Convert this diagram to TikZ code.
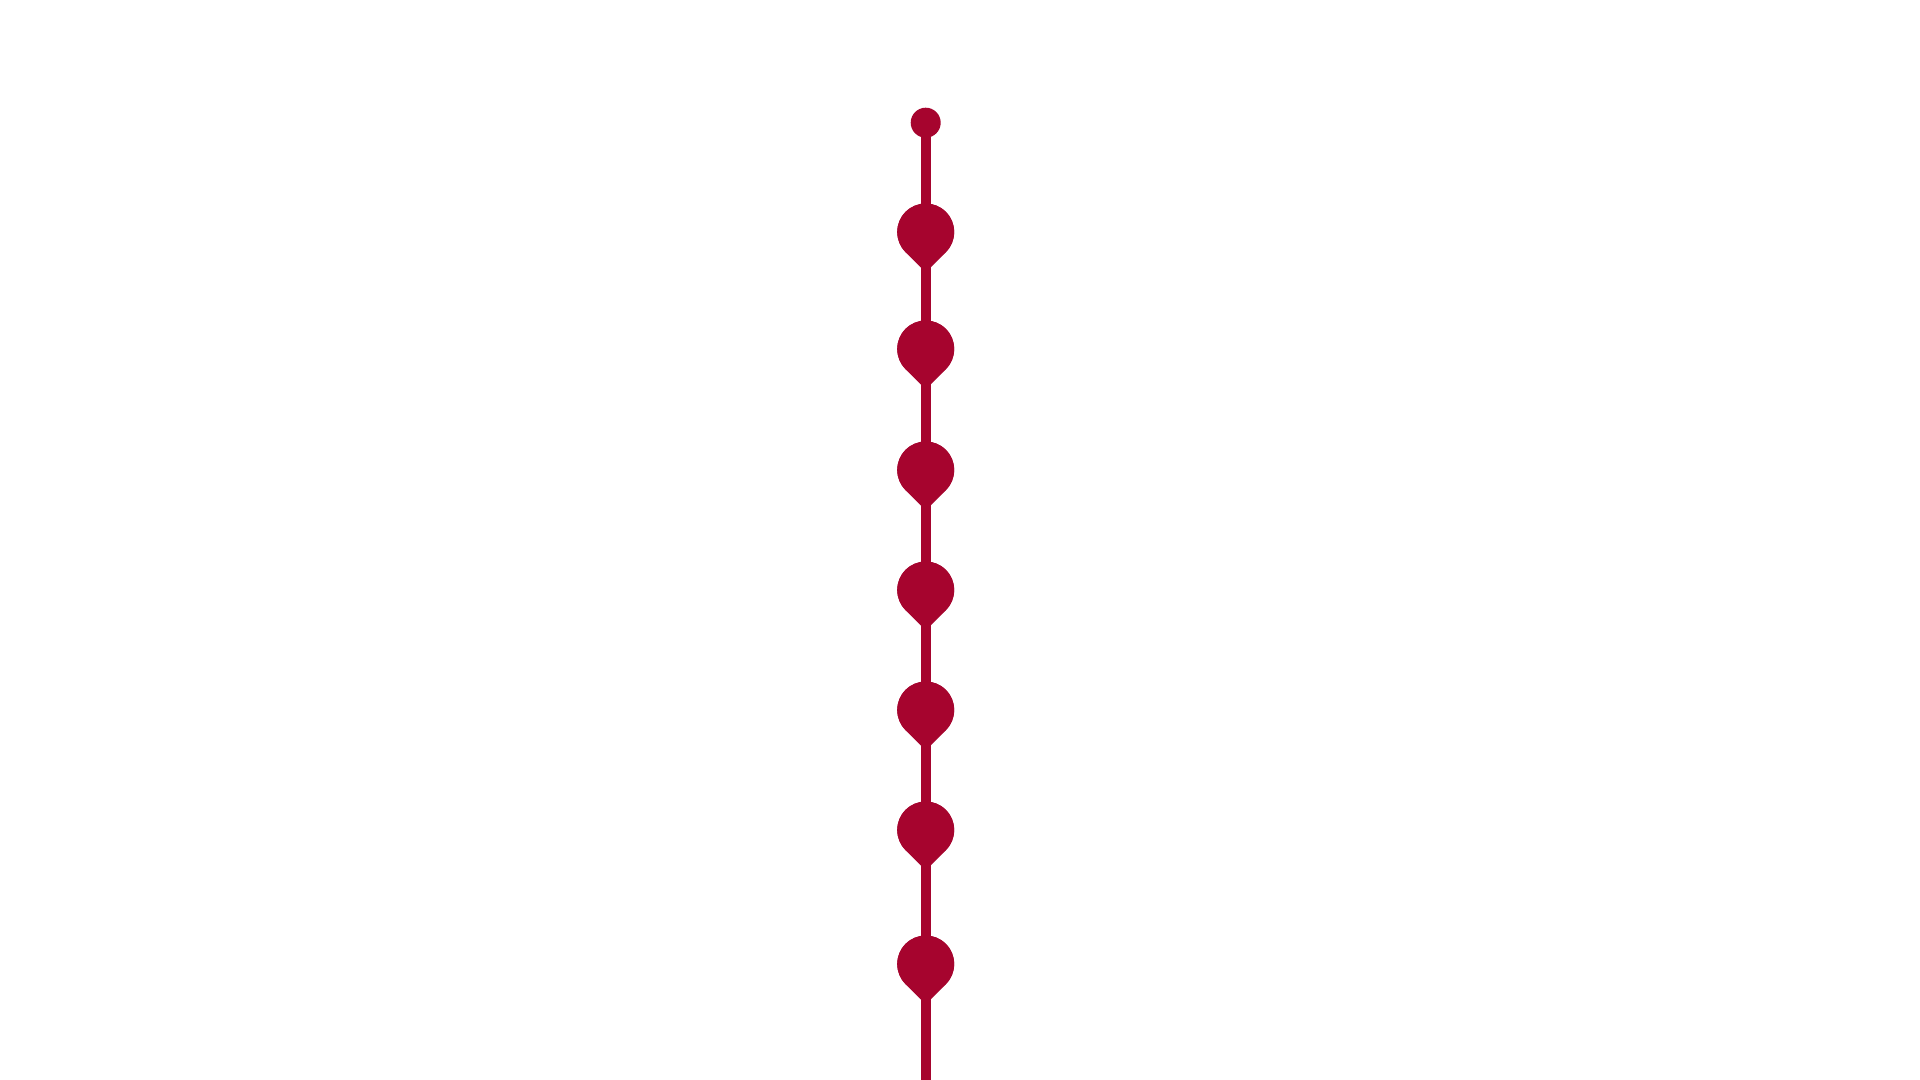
\documentclass[tikz,border=0pt]{standalone}
\usetikzlibrary{calc}
\definecolor{pincol}{RGB}{166,4,46}
\begin{document}
\begin{tikzpicture}[x=0.75pt,y=-0.75pt,
  dotnode/.style={circle,fill=pincol,inner sep=0pt,outer sep=0pt,minimum size=22.5pt},
  pinnode/.style={circle,fill=pincol,inner sep=0pt,outer sep=0pt,minimum size=42.75pt},
  stem/.style={draw=pincol,line width=7.2pt}]
\useasboundingbox (0,0) rectangle (1920,1080);
\fill[white] (0,0) rectangle (1920,1080);
\node[dotnode] (top) at (925.7,122.7) {};
\node[pinnode] (p1) at (925.7,232) {};
\node[pinnode] (p2) at (925.7,349) {};
\node[pinnode] (p3) at (925.7,470) {};
\node[pinnode] (p4) at (925.7,590) {};
\node[pinnode] (p5) at (925.7,710) {};
\node[pinnode] (p6) at (925.7,830) {};
\node[pinnode] (p7) at (925.7,964) {};
\coordinate (bottom) at (925.7,1082);
\draw[stem] (top.center) -- (p1.center) -- (p2.center) -- (p3.center) -- (p4.center)
  -- (p5.center) -- (p6.center) -- (p7.center) -- (bottom);
\foreach \n in {p1,p2,p3,p4,p5,p6,p7}{
  \fill[pincol] ($(\n.center)+(-45:21.375pt)$) arc[start angle=-45,end angle=225,radius=21.375pt]
    -- ($(\n.center)+(0,40.3)$) -- cycle;
}
\end{tikzpicture}
\end{document}
